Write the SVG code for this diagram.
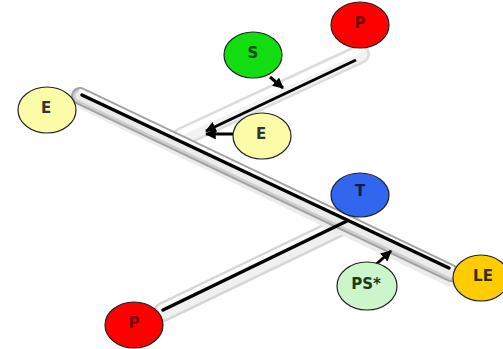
<svg xmlns="http://www.w3.org/2000/svg" width="503" height="349" viewBox="0 0 503 349">
<defs>
<marker id="ah" viewBox="0 0 10 10" refX="9" refY="5" markerWidth="3.6" markerHeight="3.6" orient="auto" markerUnits="strokeWidth">
<path d="M0,0 L10,5 L0,10 z" fill="#000"/>
</marker>
</defs>
<style>
.node ellipse{stroke:#222;stroke-width:1.2}
.node text{font-family:"DejaVu Sans",Verdana,sans-serif;font-weight:bold;font-size:15px;text-anchor:middle;dominant-baseline:central}
.wire{stroke:#000;stroke-width:3.5;fill:none;stroke-linecap:round}
.arr{stroke:#000;stroke-width:3;fill:none;marker-end:url(#ah)}
</style>
<rect width="503" height="349" fill="#fff"/>
<g id="tubes">
<!-- upper light tube -->
<line x1="182" y1="137" x2="360" y2="54" stroke="#dcdcdc" stroke-width="20" stroke-linecap="round"/>
<line x1="182" y1="137" x2="360" y2="54" stroke="#f2f2f2" stroke-width="15" stroke-linecap="round"/>
<line x1="180" y1="133" x2="358" y2="51" stroke="#fff" stroke-width="6" stroke-linecap="round"/>
<!-- lower light tube -->
<line x1="163" y1="312" x2="350" y2="222" stroke="#d6d6d6" stroke-width="20" stroke-linecap="round"/>
<line x1="163" y1="312" x2="350" y2="222" stroke="#f0f0f0" stroke-width="15" stroke-linecap="round"/>
<line x1="161" y1="308" x2="348" y2="218" stroke="#fff" stroke-width="6" stroke-linecap="round"/>
<!-- main tube shadow -->
<line x1="82" y1="101" x2="451" y2="279" stroke="#ececec" stroke-width="16" stroke-linecap="round"/>
<!-- main tube -->
<line x1="80" y1="96" x2="451" y2="273" stroke="#a2a2a2" stroke-width="18" stroke-linecap="round"/>
<line x1="80" y1="96" x2="451" y2="273" stroke="#cdcdcd" stroke-width="14" stroke-linecap="round"/>
<line x1="80" y1="96" x2="451" y2="273" stroke="#ebebeb" stroke-width="9" stroke-linecap="round"/>
<line x1="81" y1="91" x2="452" y2="268" stroke="#fff" stroke-width="4" stroke-linecap="round"/>
</g>
<g id="connectors">
<line class="wire" x1="82" y1="95" x2="449" y2="268"/>
<line class="wire" x1="163" y1="310" x2="347" y2="221"/>
<line class="arr" x1="356" y1="60" x2="206" y2="131"/>
<line class="arr" x1="233" y1="134" x2="206" y2="134"/>
<line class="arr" x1="270" y1="77" x2="283" y2="88"/>
<line class="arr" x1="372" y1="268" x2="391" y2="251"/>
</g>
<g id="nodeP1" class="node"><ellipse cx="360" cy="25" rx="29" ry="23" fill="#ff0000"/><text x="360" y="23" fill="#7a0000">P</text></g>
<g id="nodeS" class="node"><ellipse cx="253" cy="55" rx="29" ry="23" fill="#11dd11"/><text x="253" y="53" fill="#0a4a0a">S</text></g>
<g id="nodeE1" class="node"><ellipse cx="47" cy="110" rx="29" ry="23" fill="#fbfba8"/><text x="46" y="108" fill="#333">E</text></g>
<g id="nodeE2" class="node"><ellipse cx="262" cy="136" rx="29" ry="23" fill="#fbfba8"/><text x="261" y="134" fill="#333">E</text></g>
<g id="nodeT" class="node"><ellipse cx="360" cy="195" rx="29" ry="22" fill="#3366ee"/><text x="360" y="191" fill="#0a1a4a">T</text></g>
<g id="nodeLE" class="node"><ellipse cx="481" cy="278" rx="28" ry="23" fill="#ffcc00"/><text x="483" y="276" fill="#3a2a00">LE</text></g>
<g id="nodePS" class="node"><ellipse cx="367" cy="286" rx="30" ry="24" fill="#ccf5cc"/><text x="366" y="284" fill="#1a3a1a">PS*</text></g>
<g id="nodeP2" class="node"><ellipse cx="134" cy="325" rx="29" ry="23" fill="#ff0000"/><text x="134" y="323" fill="#7a0000">P</text></g>
</svg>
